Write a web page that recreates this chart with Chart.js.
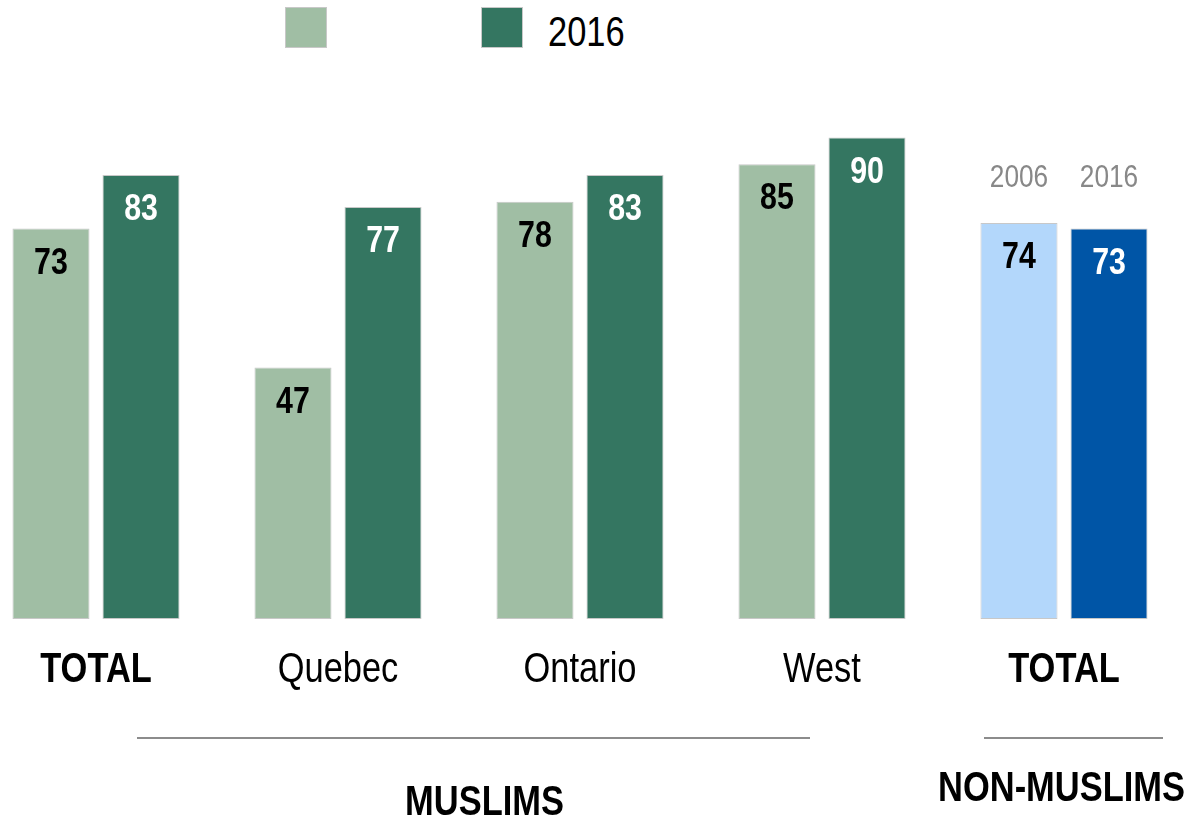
<!DOCTYPE html>
<html>
<head>
<meta charset="utf-8">
<script src="https://cdn.jsdelivr.net/npm/chart.js@4"></script>
<style>
  html, body { margin: 0; padding: 0; background: #fff; overflow: hidden; }
  body { width: 1187px; height: 820px; position: relative; font-family: "Liberation Sans", Arial, sans-serif; }
  .wrap { position: absolute; left: -25px; top: 0; width: 1210px; height: 820px; }
  .legend { position: absolute; left: 285px; top: 7px; height: 41px; }
  .legend .item { position: absolute; top: 0; height: 41px; white-space: nowrap; }
  .legend .box { position: absolute; left: 0; top: 0; width: 42px; height: 41px; border: 1px solid #c8c8c8; box-sizing: border-box; }
  .legend .txt { position: absolute; left: 67px; top: 0; line-height: 50px; font-size: 42px; color: #000;
                 transform: scaleX(0.82); transform-origin: left center; }
</style>
</head>
<body>
<div class="legend" id="legend"></div>
<div class="wrap"><canvas class="chart"></canvas></div>
<script>
const categories = ['TOTAL', 'Quebec', 'Ontario', 'West', 'TOTAL']
const years = ['2006', '2016']
const legendLabels = ['', '2016']
const values2006 = [73, 47, 78, 85, 74]
const values2016 = [83, 77, 83, 90, 73]

const colors2006 = ['#a0bea4', '#a0bea4', '#a0bea4', '#a0bea4', '#b3d7fb']
const colors2016 = ['#347661', '#347661', '#347661', '#347661', '#0055a6']
const labelColors = ['#000', '#fff']

const FONT = '"Liberation Sans", Arial, sans-serif'
const NARROW = 0.82   // squeeze text to an Arial Narrow width

function narrowText(ctx, text, x, y, font, color) {
    ctx.save()
    ctx.font = font
    ctx.fillStyle = color
    ctx.textAlign = 'center'
    ctx.textBaseline = 'middle'
    ctx.translate(x, y)
    ctx.scale(NARROW, 1)
    ctx.fillText(text, 0, 0)
    ctx.restore()
}

function buildLegend() {
    const el = document.getElementById('legend')
    const swatches = [colors2006[0], colors2016[0]]
    legendLabels.forEach((text, i) => {
        const item = document.createElement('div')
        item.className = 'item'
        item.style.left = (i * 196) + 'px'
        item.innerHTML = '<div class="box" style="background:' + swatches[i] + '"></div>' +
            (text ? '<div class="txt">' + text + '</div>' : '')
        el.appendChild(item)
    })
}

// numbers written inside the top of each bar
const valueLabels = {
    id: 'valueLabels',
    afterDatasetsDraw(chart) {
        chart.data.datasets.forEach((ds, i) => {
            chart.getDatasetMeta(i).data.forEach((bar, j) => {
                narrowText(chart.ctx, String(ds.data[j]), bar.x, bar.y + 35, 'bold 37px ' + FONT, labelColors[i])
            })
        })
    }
}

// year captions over the non-muslim pair
const yearCaptions = {
    id: 'yearCaptions',
    afterDatasetsDraw(chart) {
        const last = categories.length - 1
        const bars = chart.data.datasets.map((ds, i) => chart.getDatasetMeta(i).data[last])
        const top = Math.min(...bars.map(b => b.y))
        bars.forEach((b, i) => narrowText(chart.ctx, years[i], b.x, top - 45, '32px ' + FONT, '#888'))
    }
}

// category names under the bars
const categoryLabels = {
    id: 'categoryLabels',
    afterDraw(chart) {
        const xs = chart.scales.x
        categories.forEach((name, i) => {
            const weight = name === 'TOTAL' ? 'bold ' : ''
            narrowText(chart.ctx, name, xs.getPixelForValue(i), xs.top + 51, weight + '42px ' + FONT, '#000')
        })
    }
}

// brackets grouping the categories
const groupSpans = [
    {label: 'MUSLIMS', from: 0, to: 3, left: 41, right: -12, textShift: 11, textY: 802},
    {label: 'NON-MUSLIMS', from: 4, to: 4, left: -80, right: 99, textShift: -12, textY: 788}
]
const groupBrackets = {
    id: 'groupBrackets',
    afterDraw(chart) {
        const ctx = chart.ctx
        const xs = chart.scales.x
        groupSpans.forEach(g => {
            const x1 = xs.getPixelForValue(g.from) + g.left
            const x2 = xs.getPixelForValue(g.to) + g.right
            ctx.save()
            ctx.strokeStyle = '#666'
            ctx.lineWidth = 1.3
            ctx.beginPath()
            ctx.moveTo(x1, 738)
            ctx.lineTo(x2, 738)
            ctx.stroke()
            ctx.restore()
            narrowText(ctx, g.label, (x1 + x2) / 2 + g.textShift, g.textY + 1, 'bold 42px ' + FONT, '#000')
        })
    }
}

function totalChart(ctx) {
    new Chart(ctx, {
        type: 'bar',
        data: {
            labels: categories,
            datasets: [{
                label: years[0],
                data: values2006,
                backgroundColor: colors2006,
                borderColor: '#c8c8c8',
                borderWidth: 1,
                borderSkipped: false
            }, {
                label: years[1],
                data: values2016,
                backgroundColor: colors2016,
                borderColor: '#c8c8c8',
                borderWidth: 1,
                borderSkipped: false
            }]
        },
        options: {
            responsive: true,
            maintainAspectRatio: false,
            animation: false,
            categoryPercentage: 0.744,
            barPercentage: 0.856,
            layout: {padding: {top: 84, left: 0, right: 0, bottom: 0}},
            plugins: {
                legend: {display: false},
                tooltip: {enabled: false}
            },
            scales: {
                y: {
                    display: false,
                    min: 0,
                    max: 100
                },
                x: {
                    grid: {display: false},
                    border: {display: false},
                    ticks: {display: false},
                    afterFit: (s) => { s.height = 201 }
                }
            }
        },
        plugins: [valueLabels, yearCaptions, categoryLabels, groupBrackets]
    })
}

function renderChart() {
    const c = document.getElementsByClassName('chart')[0]
    const ctx = c.getContext('2d')
    buildLegend()
    totalChart(ctx)
}

renderChart()
</script>
</body>
</html>
